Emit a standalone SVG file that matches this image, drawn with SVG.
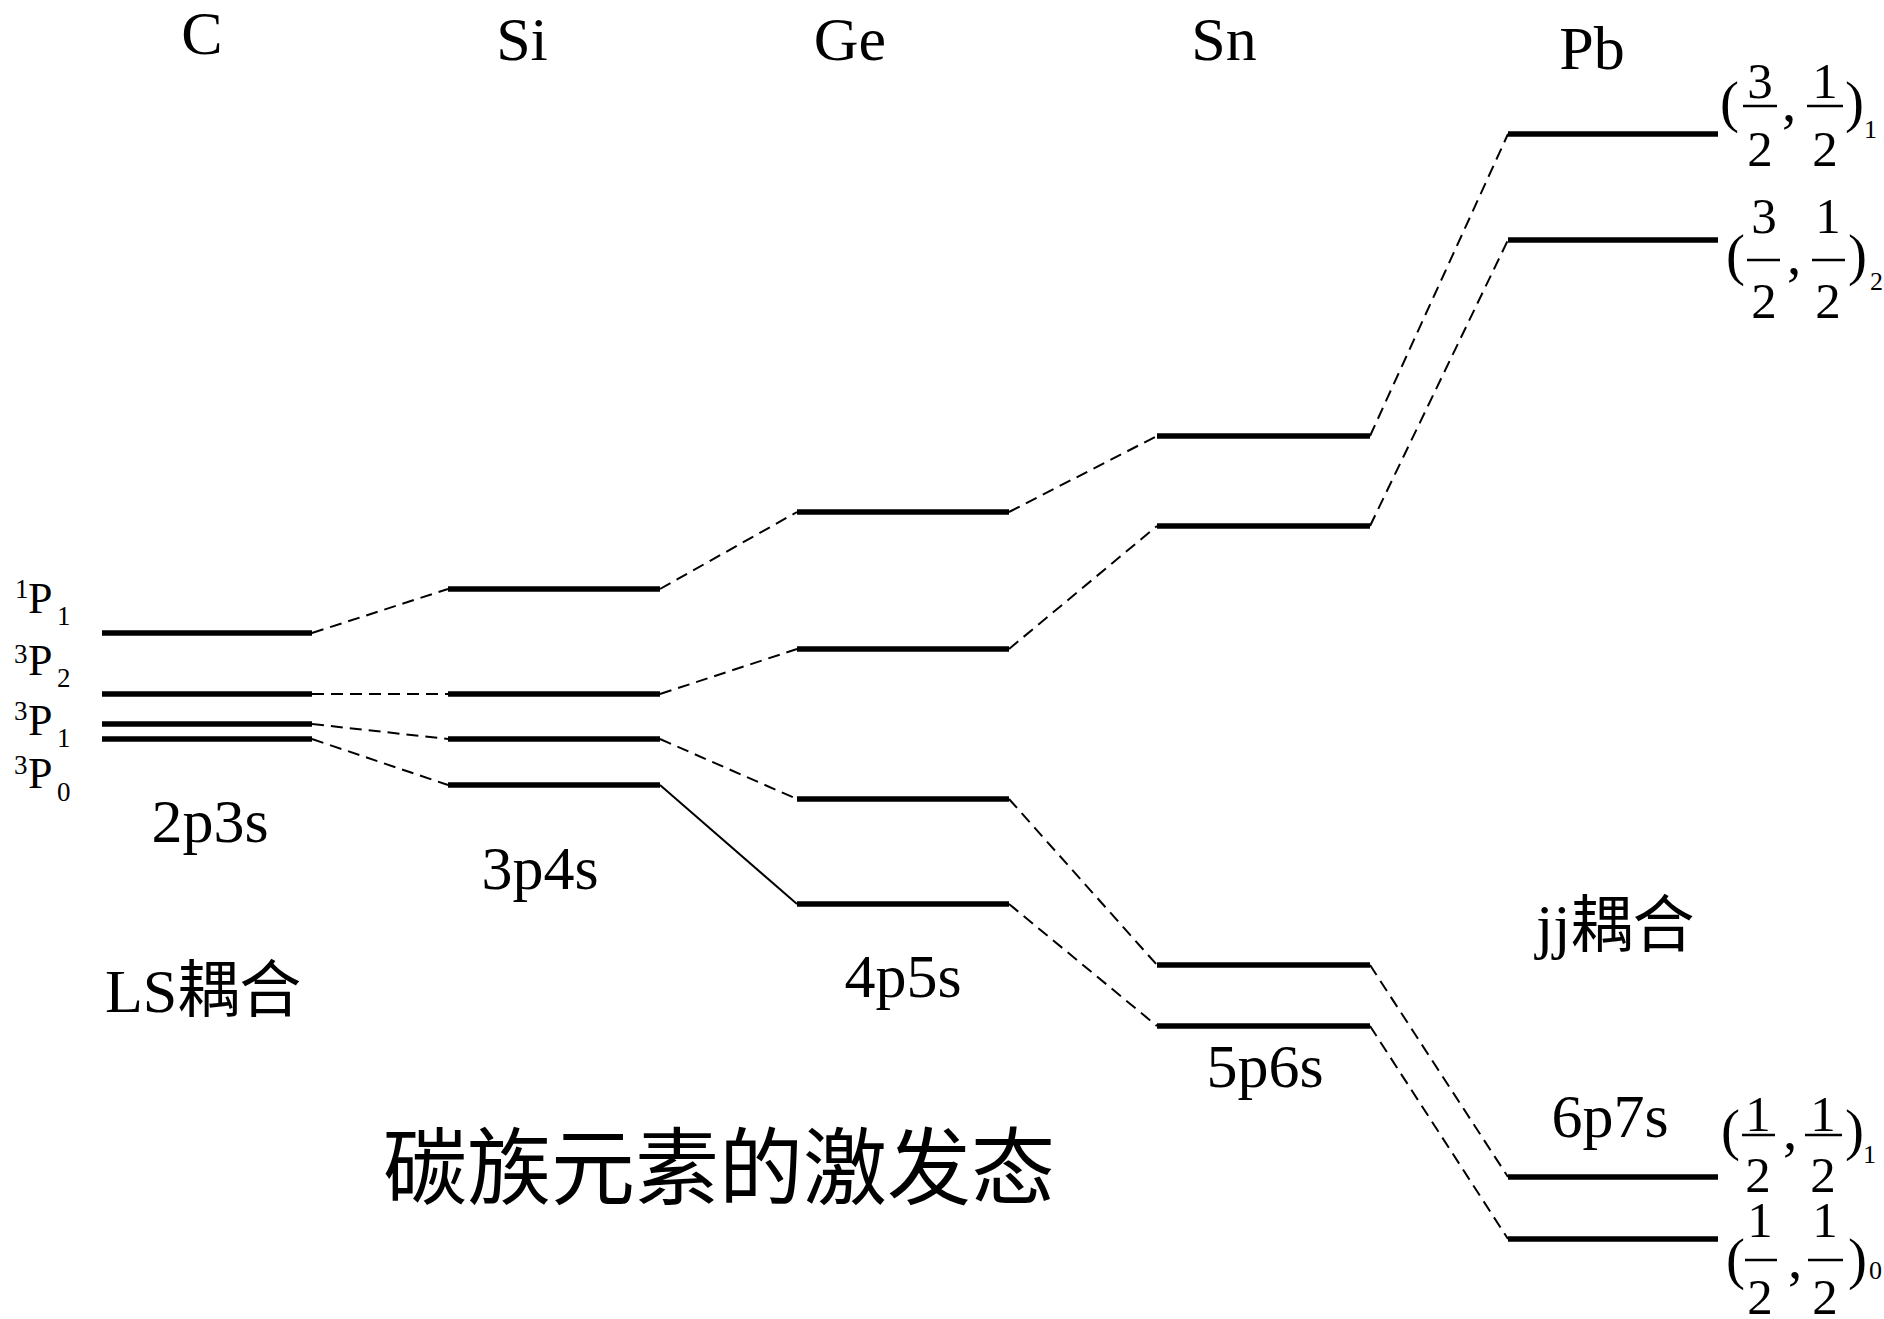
<svg xmlns="http://www.w3.org/2000/svg" width="1884" height="1319" viewBox="0 0 1884 1319">
<style>
.lv{stroke:#000;stroke-width:5.5;fill:none}
.dc{stroke:#000;stroke-width:2;stroke-dasharray:12 7;fill:none}
.sc{stroke:#000;stroke-width:2;fill:none}
.bar{stroke:#000;stroke-width:2.5}
text{font-family:"Liberation Serif","Noto Sans CJK SC",serif;fill:#000}
.el{font-size:62px;text-anchor:middle}
.cfg{font-size:62px;text-anchor:middle}
.P{font-size:44px}
.ss{font-size:27px}
.fd{font-size:51px;text-anchor:middle}
.fp{font-size:57px}
.sb{font-size:26px}
.title{font-size:84px}
</style>
<rect width="1884" height="1319" fill="#fff"/>
<g id="connectors">
<line class="dc" x1="312" y1="633" x2="448" y2="589"/>
<line class="dc" x1="312" y1="694" x2="448" y2="694"/>
<line class="dc" x1="312" y1="724" x2="448" y2="739"/>
<line class="dc" x1="312" y1="739" x2="448" y2="785"/>
<line class="dc" x1="660" y1="589" x2="797" y2="512"/>
<line class="dc" x1="660" y1="694" x2="797" y2="649"/>
<line class="dc" x1="660" y1="739" x2="797" y2="799"/>
<line class="sc" x1="660" y1="785" x2="797" y2="904"/>
<line class="dc" x1="1009" y1="512" x2="1157" y2="436"/>
<line class="dc" x1="1009" y1="649" x2="1157" y2="526"/>
<line class="dc" x1="1009" y1="799" x2="1157" y2="965"/>
<line class="dc" x1="1009" y1="904" x2="1157" y2="1026"/>
<line class="dc" x1="1370" y1="436" x2="1508" y2="134"/>
<line class="dc" x1="1370" y1="526" x2="1508" y2="240"/>
<line class="dc" x1="1370" y1="965" x2="1508" y2="1177"/>
<line class="dc" x1="1370" y1="1026" x2="1508" y2="1239"/>
</g>
<g id="C">
<text class="el" x="202" y="54">C</text>
<line class="lv" x1="102" y1="633" x2="312" y2="633"/>
<line class="lv" x1="102" y1="694" x2="312" y2="694"/>
<line class="lv" x1="102" y1="724" x2="312" y2="724"/>
<line class="lv" x1="102" y1="739" x2="312" y2="739"/>
<text class="ss" x="15" y="598">1</text><text class="P" x="28" y="613">P</text><text class="ss" x="57" y="625">1</text>
<text class="ss" x="14" y="663">3</text><text class="P" x="28" y="675">P</text><text class="ss" x="57" y="687">2</text>
<text class="ss" x="14" y="720">3</text><text class="P" x="28" y="735">P</text><text class="ss" x="57" y="747">1</text>
<text class="ss" x="14" y="774">3</text><text class="P" x="28" y="788">P</text><text class="ss" x="57" y="801">0</text>
<text class="cfg" x="210" y="842">2p3s</text>
<text x="105" y="1012" style="font-size:62px">LS耦合</text>
</g>
<g id="Si">
<text class="el" x="522" y="60">Si</text>
<line class="lv" x1="448" y1="589" x2="660" y2="589"/>
<line class="lv" x1="448" y1="694" x2="660" y2="694"/>
<line class="lv" x1="448" y1="739" x2="660" y2="739"/>
<line class="lv" x1="448" y1="785" x2="660" y2="785"/>
<text class="cfg" x="540" y="889">3p4s</text>
</g>
<g id="Ge">
<text class="el" x="850" y="60">Ge</text>
<line class="lv" x1="797" y1="512" x2="1009" y2="512"/>
<line class="lv" x1="797" y1="649" x2="1009" y2="649"/>
<line class="lv" x1="797" y1="799" x2="1009" y2="799"/>
<line class="lv" x1="797" y1="904" x2="1009" y2="904"/>
<text class="cfg" x="903" y="997">4p5s</text>
</g>
<g id="Sn">
<text class="el" x="1224" y="60">Sn</text>
<line class="lv" x1="1157" y1="436" x2="1370" y2="436"/>
<line class="lv" x1="1157" y1="526" x2="1370" y2="526"/>
<line class="lv" x1="1157" y1="965" x2="1370" y2="965"/>
<line class="lv" x1="1157" y1="1026" x2="1370" y2="1026"/>
<text class="cfg" x="1265" y="1087">5p6s</text>
</g>
<g id="Pb">
<text class="el" x="1592" y="69">Pb</text>
<line class="lv" x1="1508" y1="134" x2="1718" y2="134"/>
<line class="lv" x1="1508" y1="240" x2="1718" y2="240"/>
<line class="lv" x1="1508" y1="1177" x2="1718" y2="1177"/>
<line class="lv" x1="1508" y1="1239" x2="1718" y2="1239"/>
<text class="cfg" x="1610" y="1137">6p7s</text>
<text x="1536" y="947" style="font-size:62px">jj耦合</text>
</g>
<g id="jA">
<text class="fp" x="1720" y="121">(</text>
<text class="fd" x="1760" y="98">3</text>
<line class="bar" x1="1743" y1="106" x2="1777" y2="106"/>
<text class="fd" x="1760" y="166">2</text>
<text class="fp" x="1782" y="121">,</text>
<text class="fd" x="1825" y="98">1</text>
<line class="bar" x1="1807" y1="106" x2="1843" y2="106"/>
<text class="fd" x="1825" y="166">2</text>
<text class="fp" x="1845" y="121">)</text>
<text class="sb" x="1864" y="138">1</text>
</g>
<g id="jB">
<text class="fp" x="1726" y="274">(</text>
<text class="fd" x="1764" y="233">3</text>
<line class="bar" x1="1747" y1="260" x2="1780" y2="260"/>
<text class="fd" x="1764" y="318">2</text>
<text class="fp" x="1787" y="274">,</text>
<text class="fd" x="1828" y="233">1</text>
<line class="bar" x1="1812" y1="260" x2="1845" y2="260"/>
<text class="fd" x="1828" y="318">2</text>
<text class="fp" x="1848" y="274">)</text>
<text class="sb" x="1870" y="290">2</text>
</g>
<g id="jC">
<text class="fp" x="1721" y="1149">(</text>
<text class="fd" x="1758" y="1131">1</text>
<line class="bar" x1="1742" y1="1135" x2="1775" y2="1135"/>
<text class="fd" x="1758" y="1192">2</text>
<text class="fp" x="1783" y="1149">,</text>
<text class="fd" x="1823" y="1131">1</text>
<line class="bar" x1="1805" y1="1135" x2="1842" y2="1135"/>
<text class="fd" x="1823" y="1192">2</text>
<text class="fp" x="1845" y="1149">)</text>
<text class="sb" x="1863" y="1163">1</text>
</g>
<g id="jD">
<text class="fp" x="1726" y="1278">(</text>
<text class="fd" x="1760" y="1237">1</text>
<line class="bar" x1="1745" y1="1260" x2="1777" y2="1260"/>
<text class="fd" x="1760" y="1314">2</text>
<text class="fp" x="1788" y="1278">,</text>
<text class="fd" x="1825" y="1237">1</text>
<line class="bar" x1="1808" y1="1260" x2="1843" y2="1260"/>
<text class="fd" x="1825" y="1314">2</text>
<text class="fp" x="1848" y="1278">)</text>
<text class="sb" x="1869" y="1279">0</text>
</g>
<g id="title">
<text class="title" x="383" y="1198">碳族元素的激发态</text>
</g>
</svg>
